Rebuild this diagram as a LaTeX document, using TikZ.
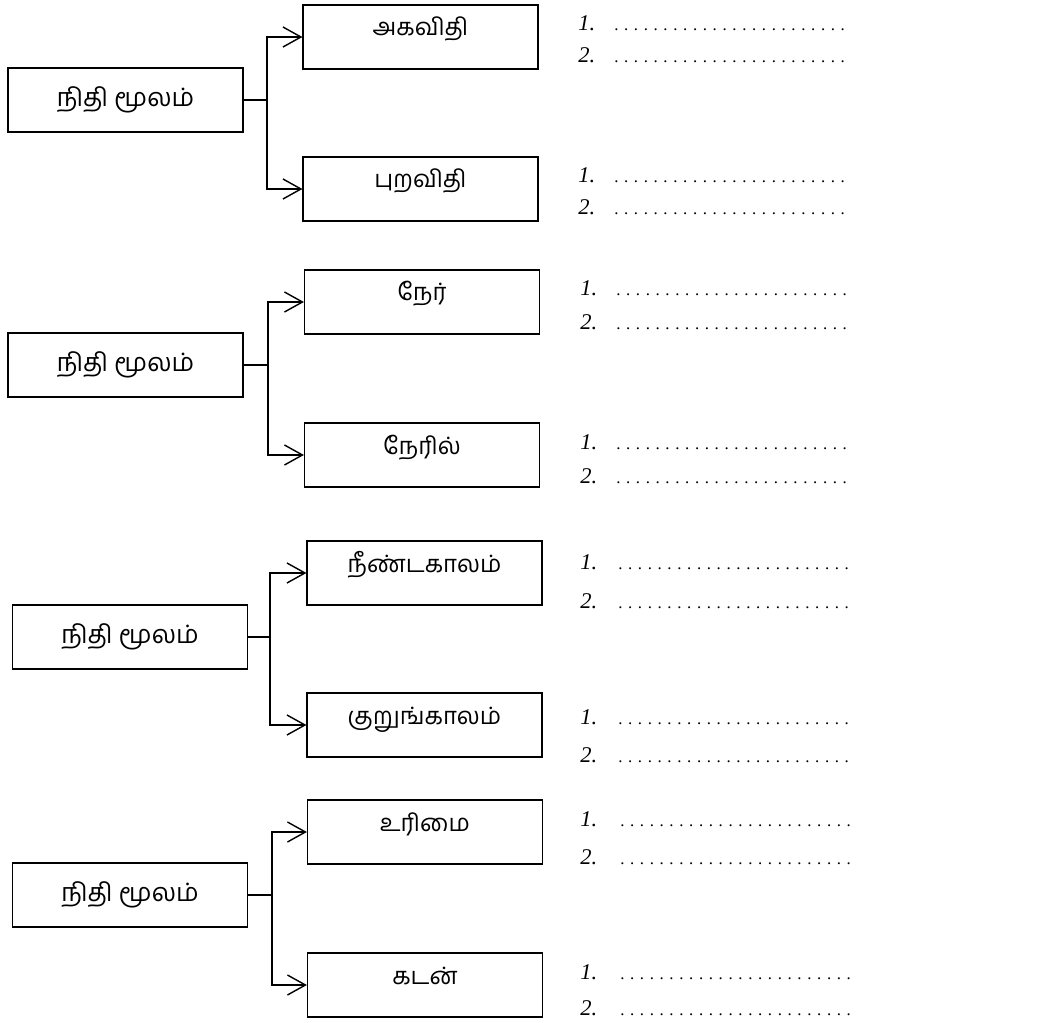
\documentclass[tikz,border=0pt]{standalone}
\usepackage{fontspec}
\setmainfont{Liberation Serif}
\newfontfamily\tamil[Script=Tamil]{Hind Madurai}
\usetikzlibrary{arrows.meta}

\newcommand\dotrow{. . . . . . . . . . . . . . . . . . . . . . . .}

\begin{document}
\begin{tikzpicture}[x=0.025cm,y=-0.025cm]

\tikzset{
    box/.style = {
    draw, line width=0.8pt,
    minimum height=1.6cm,
    minimum width=5.875cm,
    inner sep=0pt,
    font=\tamil\fontsize{18}{21}\selectfont
    },
    kind/.style = {
    box,
    font=\tamil\fontsize{17}{20}\selectfont,
    text height=0.4cm,
    text depth=0.45cm
    }
}

\tikzstyle{trunk}=[line width=1.1pt]
\tikzstyle{link}=[line width=1.1pt, -{Straight Barb[length=4.5mm,width=5mm,line width=1pt]}]
\tikzstyle{num}=[anchor=base west, inner sep=0pt, font=\itshape\fontsize{16}{18}\selectfont]
\tikzstyle{blank}=[anchor=base west, inner sep=0pt, font=\fontsize{12}{14}\selectfont]

\useasboundingbox (0,0) rectangle (1057,1023);

% group 1
\node (src-1) [box] at (125.5,100) {நிதி மூலம்};
\node (k-1a) [kind] at (420.5,37) {அகவிதி};
\node (k-1b) [kind] at (420.5,189) {புறவிதி};
\coordinate (j-1) at (267,100);
\draw [trunk] (src-1.east) -- (j-1);
\draw [link] (j-1) |- (k-1a.west);
\draw [link] (j-1) |- (k-1b.west);

\node (n-1a1) [num] at (578,31) {1.};
\node (d-1a1) [blank] at (614,31) {\dotrow};
\node (n-1a2) [num] at (578,63) {2.};
\node (d-1a2) [blank] at (614,63) {\dotrow};
\node (n-1b1) [num] at (578,183) {1.};
\node (d-1b1) [blank] at (614,183) {\dotrow};
\node (n-1b2) [num] at (578,215) {2.};
\node (d-1b2) [blank] at (614,215) {\dotrow};

% group 2
\node (src-2) [box] at (125.5,365) {நிதி மூலம்};
\node (k-2a) [kind] at (422,302) {நேர்};
\node (k-2b) [kind] at (422,455) {நேரில்};
\coordinate (j-2) at (268,365);
\draw [trunk] (src-2.east) -- (j-2);
\draw [link] (j-2) |- (k-2a.west);
\draw [link] (j-2) |- (k-2b.west);

\node (n-2a1) [num] at (580,296) {1.};
\node (d-2a1) [blank] at (616,296) {\dotrow};
\node (n-2a2) [num] at (580,330) {2.};
\node (d-2a2) [blank] at (616,330) {\dotrow};
\node (n-2b1) [num] at (580,449) {1.};
\node (d-2b1) [blank] at (616,449) {\dotrow};
\node (n-2b2) [num] at (580,483) {2.};
\node (d-2b2) [blank] at (616,483) {\dotrow};

% group 3
\node (src-3) [box] at (130,637) {நிதி மூலம்};
\node (k-3a) [kind] at (424.5,573) {நீண்டகாலம்};
\node (k-3b) [kind] at (424.5,725) {குறுங்காலம்};
\coordinate (j-3) at (270,637);
\draw [trunk] (src-3.east) -- (j-3);
\draw [link] (j-3) |- (k-3a.west);
\draw [link] (j-3) |- (k-3b.west);

\node (n-3a1) [num] at (580,569) {1.};
\node (d-3a1) [blank] at (618,569) {\dotrow};
\node (n-3a2) [num] at (580,608) {2.};
\node (d-3a2) [blank] at (618,608) {\dotrow};
\node (n-3b1) [num] at (580,724) {1.};
\node (d-3b1) [blank] at (618,724) {\dotrow};
\node (n-3b2) [num] at (580,762) {2.};
\node (d-3b2) [blank] at (618,762) {\dotrow};

% group 4
\node (src-4) [box] at (130,895) {நிதி மூலம்};
\node (k-4a) [kind] at (425,832) {உரிமை};
\node (k-4b) [kind] at (425,985) {கடன்};
\coordinate (j-4) at (272,895);
\draw [trunk] (src-4.east) -- (j-4);
\draw [link] (j-4) |- (k-4a.west);
\draw [link] (j-4) |- (k-4b.west);

\node (n-4a1) [num] at (580,826) {1.};
\node (d-4a1) [blank] at (620,826) {\dotrow};
\node (n-4a2) [num] at (580,864) {2.};
\node (d-4a2) [blank] at (620,864) {\dotrow};
\node (n-4b1) [num] at (580,979) {1.};
\node (d-4b1) [blank] at (620,979) {\dotrow};
\node (n-4b2) [num] at (580,1015) {2.};
\node (d-4b2) [blank] at (620,1015) {\dotrow};

\end{tikzpicture}
\end{document}
